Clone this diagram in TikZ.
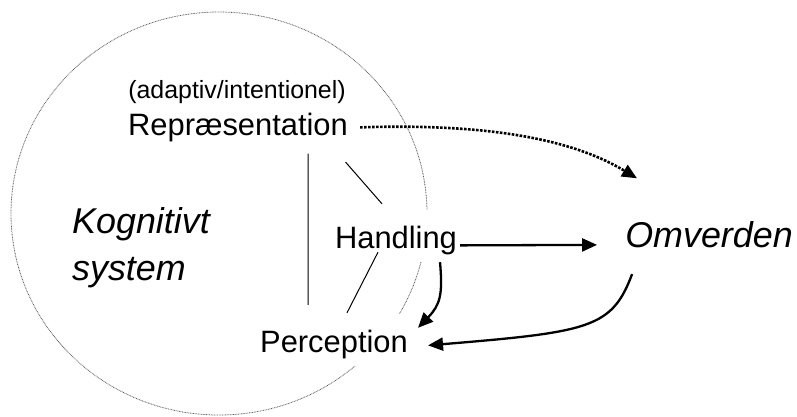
\documentclass[tikz,border=0pt]{standalone}
\usepackage{fontspec}
\setmainfont{Liberation Sans}
\usetikzlibrary{arrows.meta}

\tikzset{
	lbl/.style={inner sep=0pt},
	boxlbl/.style={fill=white,inner xsep=3bp,inner ysep=0pt,text height=38bp,text depth=14bp},
	conn/.style={line width=1bp},
	arr/.style={line width=2.3bp,-{Triangle[length=15bp,width=13bp]}},
	dotarr/.style={arr,line width=2.6bp,dash pattern=on 2.6bp off 1.4bp}
}

\begin{document}
\begin{tikzpicture}[x=1bp,y=-1bp]
			\useasboundingbox (0,0) rectangle (797,416);
			
			% Circle
			\draw[line width=0.8bp,black!65,dash pattern=on 0.8bp off 0.8bp] (219,213.5) ellipse [x radius=208bp, y radius=201.5bp];
			
			% nodes
			\node[lbl,anchor=base,font=\fontsize{25}{30}\selectfont] (adap) at (237,98) {(adaptiv/intentionel)};
			\node[lbl,anchor=base,font=\fontsize{31}{37}\selectfont] (rep) at (238,135) {Repræsentation};
			\node[boxlbl,anchor=base,font=\fontsize{31}{37}\selectfont] (hand) at (396,248) {Handling};
			\node[boxlbl,anchor=base,font=\fontsize{31}{37}\selectfont] (perc) at (334,352) {Perception};
			\node[lbl,anchor=base,font=\fontsize{36}{47}\selectfont\itshape] (omv) at (709,247.5) {Omverden};
			\node[lbl,anchor=base west,align=left,font=\fontsize{36}{47}\selectfont\itshape] (kog) at (72,280) {Kognitivt\\system};
			
			% lines
			\draw[conn] ([xshift=70bp,yshift=-12bp]rep.south) -- ([xshift=-26bp,yshift=9bp]perc.north);
			\draw[conn] ([xshift=-2.5bp,yshift=-20.5bp]rep.south east) -- ([xshift=-14bp,yshift=6bp]hand.north);
			\draw[conn] ([xshift=13bp,yshift=1bp]perc.north) -- ([xshift=-18bp,yshift=10bp]hand.south);
			
			% arrows
			\draw[dotarr] ([xshift=12bp,yshift=5bp]rep.mid east) .. controls (520,122) and (590,150) .. ([xshift=-72bp,yshift=43bp]omv.north);
			\draw[arr] (hand.mid east) -- ([xshift=-28bp]omv.mid west);
			\draw[arr] ([xshift=44bp]hand.south) .. controls (443,295) and (440,305) .. ([xshift=7bp,yshift=-14bp]perc.north east);
			\draw[arr] ([xshift=7bp,yshift=-26bp]omv.south west) .. controls (612,328) and (590,332) .. ([xshift=17bp,yshift=4bp]perc.mid east);
			
		\end{tikzpicture}
\end{document}
